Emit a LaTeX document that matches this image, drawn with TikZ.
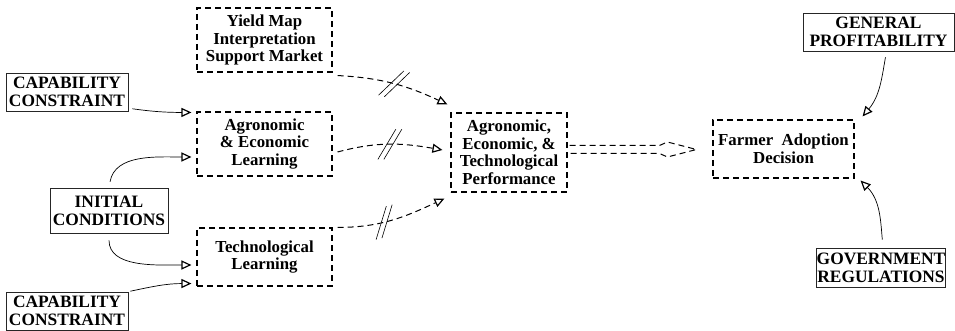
\documentclass[tikz,border=0pt]{standalone}
\usepackage{fontspec}
\setmainfont{Liberation Serif}
\usetikzlibrary{arrows.meta,calc,decorations.markings}

\begin{document}
\begin{tikzpicture}[x=1pt,y=1pt,
  every node/.style={align=center, inner sep=0pt,
    font=\fontsize{16.8}{17.5}\selectfont\bfseries},
  factor/.style={draw=black!85, line width=0.7pt,
    font=\fontsize{17.4}{18}\selectfont\bfseries},
  stage/.style={draw, line width=1.1pt, dash pattern=on 6pt off 4pt},
  influence/.style={line width=0.7pt,
    -{Triangle[open, length=10pt, width=9pt, line width=1.2pt]}},
  flow/.style={line width=1pt, dash pattern=on 6pt off 4pt,
    -{Triangle[open, length=10pt, width=9pt, line width=1.2pt]}},
  lag/.style={decoration={markings, mark=at position #1 with {
      \draw[solid, -, line width=0.6pt] (-12pt,-15pt) -- (6pt,15pt)
                                        (-6pt,-15pt) -- (12pt,15pt);}},
    postaction={decorate}},
]
\useasboundingbox (0,0) rectangle (955,331);

% external factors (solid boxes)
\node[factor, minimum width=122pt, minimum height=38pt] (capT) at (67,239) {CAPABILITY\\CONSTRAINT};
\node[factor, minimum width=118pt, minimum height=45pt] (init) at (109,120.5) {INITIAL\\CONDITIONS};
\node[factor, minimum width=122pt, minimum height=38pt] (capB) at (67,20) {CAPABILITY\\CONSTRAINT};
\node[factor, minimum width=151pt, minimum height=38pt] (gen) at (878.5,299) {GENERAL\\PROFITABILITY};
\node[factor, minimum width=128pt, minimum height=39pt] (gov) at (881,63.5) {GOVERNMENT\\REGULATIONS};

% process stages (dashed boxes)
\node[stage, minimum width=135pt, minimum height=64pt] (yield) at (264.5,291) {Yield Map\\Interpretation\\Support Market};
\node[stage, minimum width=135pt, minimum height=64pt] (agLearn) at (264.5,187) {Agronomic\\\& Economic\\Learning};
\node[stage, minimum width=135pt, minimum height=58pt] (techLearn) at (264.5,74) {Technological\\Learning};
\node[stage, minimum width=116pt, minimum height=79pt] (perf) at (509,178.5) {Agronomic,\\Economic, \&\\Technological\\Performance};
\node[stage, minimum width=141pt, minimum height=58pt] (farmer) at (783.5,182) {Farmer\hspace{0.5em}Adoption\\Decision};

% influences of the external factors
\draw[influence, shorten <=3pt] ($(capT.south east)+(1,3)$) to[out=-8, in=180] ($(agLearn.north west)+(-5,-1)$);
\draw[influence, shorten <=6pt] (init.north) to[out=80, in=180] ($(agLearn.west)+(-5,-13)$);
\draw[influence, shorten <=7pt] (init.south) to[out=-90, in=180] ($(techLearn.west)+(-5,-8)$);
\draw[influence, shorten <=2pt] (capB.north east) to[out=12, in=180] ($(techLearn.south west)+(-5,3)$);
\draw[influence, shorten <=6pt] ($(gen.south)+(8,0)$) to[out=-100, in=50] ($(farmer.north east)+(8,3)$);
\draw[influence, shorten <=8pt] ($(gov.north)+(2,0)$) to[out=95, in=-45] ($(farmer.south east)+(6,-2)$);

% lagged flows into performance
\draw[flow, lag=0.5] ($(yield.south east)+(5,-3)$) to[out=-3, in=155] ($(perf.north west)+(-3,8)$);
\draw[flow, lag=0.5] ($(agLearn.east)+(5,-8)$) to[out=15, in=170] ($(perf.west)+(-8,2.5)$);
\draw[flow, lag=0.42] ($(techLearn.north east)+(5,0)$) to[out=0, in=-155] ($(perf.south west)+(-6,-6)$);

% hollow double arrow from performance to the adoption decision
\draw[line width=1pt, dash pattern=on 6pt off 4pt, line join=round]
  ($(perf.east)+(2,7)$) -- ($(farmer.west)+(-53,3.5)$) -- ($(farmer.west)+(-45,7)$)
  -- ($(farmer.west)+(-16,-0.5)$)
  -- ($(farmer.west)+(-45,-8)$) -- ($(farmer.west)+(-53,-4.5)$) -- ($(perf.east)+(2,-1)$);
\end{tikzpicture}
\end{document}
